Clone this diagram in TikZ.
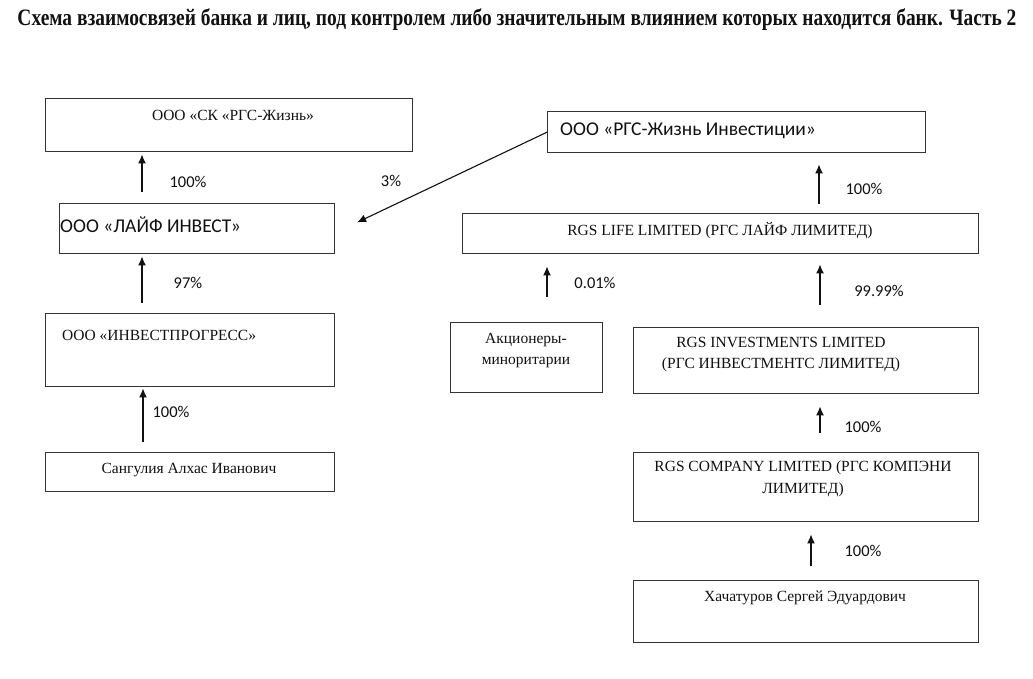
\documentclass[tikz,border=0pt]{standalone}
\usepackage{graphicx}
\usepackage{fontspec}
\setmainfont{Liberation Serif}
\newfontfamily\calfont{Carlito}
\usetikzlibrary{calc,arrows.meta}
\definecolor{boxc}{HTML}{333333}
\definecolor{txt}{HTML}{111111}
\begin{document}
\begin{tikzpicture}[x=1pt,y=-1pt,
  box/.style={draw=boxc, line width=1.4pt, rectangle, inner sep=0pt, anchor=north west},
  ser/.style={font=\fontsize{15.5}{21.5}\selectfont, text=txt, inner sep=0pt, align=center},
  san/.style={font=\calfont\fontsize{16.5}{19}\selectfont, text=txt, inner sep=0pt},
  sanbig/.style={font=\calfont\fontsize{19.5}{23}\selectfont, text=txt, inner sep=0pt},
  arr/.style={-{Latex[length=9pt,width=8pt]}, line width=1.3pt, draw=txt}]
\fill[white] (0,0) rectangle (1033,679);
\useasboundingbox (0,0) rectangle (1033,679);

% title
\node[font=\bfseries\fontsize{23.5}{27}\selectfont, text=txt, inner sep=0pt] (title) at (517,20)
  {\resizebox{999pt}{\height}{Схема взаимосвязей банка и лиц, под контролем либо значительным влиянием которых находится банк. Часть 2}};

% left column boxes
\node[box, minimum width=367pt, minimum height=53pt] (A) at (45,98) {};
\node[box, minimum width=275pt, minimum height=50pt] (B) at (59,203) {};
\node[box, minimum width=289pt, minimum height=73pt] (C) at (45,313) {};
\node[box, minimum width=289pt, minimum height=39pt] (D) at (45,452) {};

\node[ser] (tA) at (233,115) {ООО «СК «РГС-Жизнь»};
\node[sanbig, anchor=west] (tB) at (60,225) {ООО «ЛАЙФ ИНВЕСТ»};
\node[ser, anchor=west] (tC) at (62,335) {ООО «ИНВЕСТПРОГРЕСС»};
\node[ser] (tD) at (189,470) {Сангулия Алхас Иванович};

% right column boxes
\node[box, minimum width=378pt, minimum height=41pt] (E) at (547,111) {};
\node[box, minimum width=516pt, minimum height=40pt] (F) at (462,213) {};
\node[box, minimum width=152pt, minimum height=70pt] (G) at (450,322) {};
\node[box, minimum width=345pt, minimum height=66pt] (H) at (633,327) {};
\node[box, minimum width=345pt, minimum height=69pt] (I) at (633,452) {};
\node[box, minimum width=345pt, minimum height=62pt] (J) at (633,580) {};

\node[sanbig, anchor=west] (tE) at (560,131) {ООО «РГС-Жизнь Инвестиции»};
\node[ser] (tF) at (720,231) {RGS LIFE LIMITED (РГС ЛАЙФ ЛИМИТЕД)};
\node[ser, anchor=north] (tG) at (526,333) {Акционеры-\\миноритарии};
\node[ser, anchor=north] (tH) at (781,337) {RGS INVESTMENTS LIMITED\\(РГС ИНВЕСТМЕНТС ЛИМИТЕД)};
\node[ser, anchor=north] (tI) at (803,461) {RGS COMPANY LIMITED (РГС КОМПЭНИ\\ЛИМИТЕД)};
\node[ser] (tJ) at (805,598) {Хачатуров Сергей Эдуардович};

% arrow columns
\coordinate (xa) at (142,0);
\coordinate (xb) at (143,0);
\coordinate (xc) at (547,0);
\coordinate (xd) at (819,0);
\coordinate (xe) at (820,0);
\coordinate (xf) at (811,0);

\draw[arr, shorten <=11pt, shorten >=2pt] (B.north -| xa) -- (A.south -| xa);
\draw[arr, shorten <=10pt, shorten >=2pt] (C.north -| xa) -- (B.south -| xa);
\draw[arr, shorten <=10pt, shorten >=1pt] (D.north -| xb) -- (C.south -| xb);
\draw[arr, shorten <=9pt, shorten >=11pt] (F.north -| xd) -- (E.south -| xd);
\draw[arr, shorten <=25pt, shorten >=12pt] (G.north -| xc) -- (F.south -| xc);
\draw[arr, shorten <=22pt, shorten >=10pt] (H.north -| xe) -- (F.south -| xe);
\draw[arr, shorten <=19pt, shorten >=12pt] (I.north -| xe) -- (H.south -| xe);
\draw[arr, shorten <=14pt, shorten >=12pt] (J.north -| xf) -- (I.south -| xf);
\draw[arr, line width=1.1pt, shorten >=24pt] (E.west) -- ($(B.east)+(0,4)$);

% percentage labels
\node[san] (l1) at (188,182) {100\%};
\node[san] (l2) at (391,181) {3\%};
\node[san] (l3) at (188,283) {97\%};
\node[san] (l4) at (171,412) {100\%};
\node[san] (l5) at (864,189) {100\%};
\node[san] (l6) at (595,283) {0.01\%};
\node[san] (l7) at (879,291) {99.99\%};
\node[san] (l8) at (863,427) {100\%};
\node[san] (l9) at (863,551) {100\%};
\end{tikzpicture}
\end{document}
